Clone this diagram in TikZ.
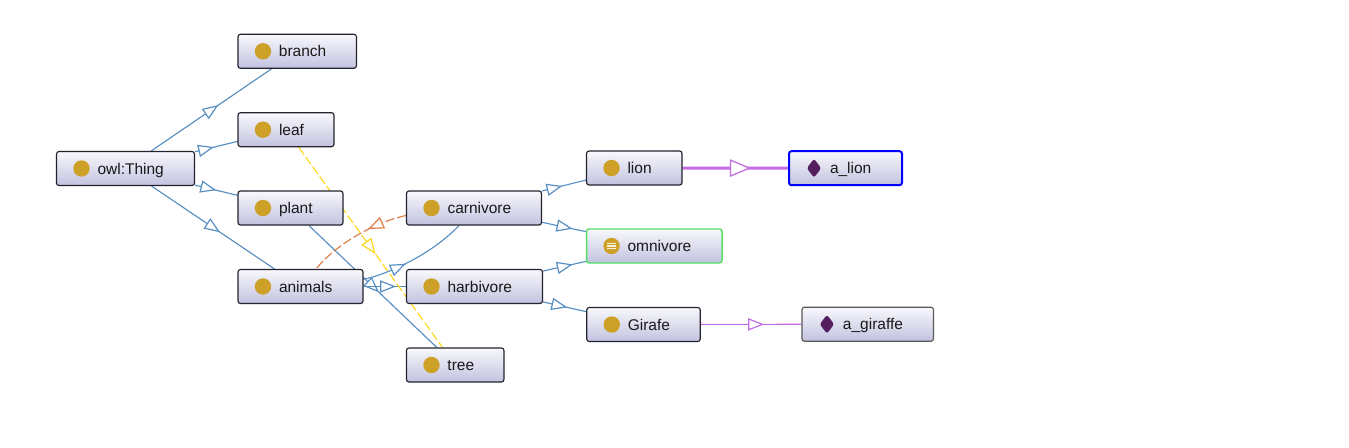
\documentclass[tikz,border=0pt]{standalone}
\usepackage{fontspec}
\setmainfont{Liberation Sans}
\usetikzlibrary{calc,decorations.markings,backgrounds}
\definecolor{edgeblue}{RGB}{88,143,195}
\definecolor{edgeyellow}{RGB}{255,214,30}
\definecolor{edgeorange}{RGB}{222,125,70}
\definecolor{edgepurple}{RGB}{196,108,226}
\definecolor{icongold}{RGB}{205,160,40}
\definecolor{iconplum}{RGB}{85,30,95}
\definecolor{boxtop}{RGB}{248,248,252}
\definecolor{boxbottom}{RGB}{194,194,224}
\definecolor{boxedge}{RGB}{35,35,45}
\definecolor{okgreen}{RGB}{85,225,100}
\tikzset{
  x=1pt,y=-1pt,
  box/.style={rectangle,rounded corners=2.5pt,draw=boxedge,line width=1.15pt,
    top color=boxtop,bottom color=boxbottom,minimum height=34pt,
    inner xsep=0pt,inner ysep=0pt,text height=11pt,text depth=0pt,
    font=\fontsize{15.5pt}{18pt}\selectfont,text=black!90},
  classbox/.style={box,path picture={\fill[icongold] ([xshift=25pt]path picture bounding box.west) circle (8.2pt);}},
  equivbox/.style={box,draw=okgreen,line width=1.4pt,path picture={
    \fill[icongold] ([xshift=25pt]path picture bounding box.west) circle (8.2pt);
    \foreach \dy in {-2.8,0,2.8}{\draw[white!85!icongold,line width=1.3pt] ([xshift=20.8pt,yshift=\dy pt]path picture bounding box.west) -- ++(8.4pt,0);}}},
  indivbox/.style={box,path picture={\fill[iconplum] ([xshift=25pt]path picture bounding box.west) ++(0pt,9.5pt) -- ++(7.2pt,-9.5pt) -- ++(-7.2pt,-9.5pt) -- ++(-7.2pt,9.5pt) -- cycle;}},
  bluelink/.style={draw=edgeblue,line width=1.15pt},
  yellowlink/.style={draw=edgeyellow,line width=1.15pt,dash pattern=on 9pt off 3pt},
  orangelink/.style={draw=edgeorange,line width=1.15pt,dash pattern=on 9pt off 3pt},
  purplelink/.style={draw=edgepurple,line width=1.15pt},
  heavylink/.style={draw=edgepurple,line width=3pt},
  headat/.style n args={5}{postaction={decorate},decoration={markings,mark=at position #1 with {
    \draw[draw=#2,fill=white,solid,line width=#5,line join=miter] (-#3pt,-#4pt) -- (#3pt,0pt) -- (-#3pt,#4pt) -- cycle;}}},
}
\newcommand\lnk[4]{%
  \draw[#1link] (#3) -- (#4);
  \path[headat={0.5}{#2}{6.8}{5.4}{1.2pt}] (#3.center) -- (#4.center);}
\newcommand\lbl[2]{\makebox[#1pt][l]{\hspace*{41pt}#2}}
\begin{document}
\begin{tikzpicture}
\useasboundingbox (0,0) rectangle (1349,447);
\node[classbox] (thing) at (125.5,168.5) {\lbl{138}{owl:Thing}};
\node[classbox] (branch) at (297.2,51.3) {\lbl{118.5}{branch}};
\node[classbox] (leaf) at (286,129.7) {\lbl{96}{leaf}};
\node[classbox] (plant) at (290.5,208) {\lbl{105}{plant}};
\node[classbox] (animals) at (300.5,286.5) {\lbl{125}{animals}};
\node[classbox] (carnivore) at (474,208) {\lbl{135}{carnivore}};
\node[classbox] (harbivore) at (474.5,286.5) {\lbl{136}{harbivore}};
\node[classbox] (tree) at (455.2,365) {\lbl{97.5}{tree}};
\node[classbox] (lion) at (634.3,168) {\lbl{95.5}{lion}};
\node[equivbox] (omnivore) at (654.3,246) {\lbl{135.5}{omnivore}};
\node[classbox] (girafe) at (643.5,324.5) {\lbl{113.5}{Girafe}};
\node[indivbox,draw=blue,line width=2pt] (alion) at (845.5,168.2) {\lbl{113}{a\_lion}};
\node[indivbox,draw=black!65] (agiraffe) at (867.7,324.2) {\lbl{131.5}{a\_giraffe}};
\begin{scope}[on background layer]
\lnk{blue}{edgeblue}{thing}{branch}
\lnk{blue}{edgeblue}{thing}{leaf}
\lnk{blue}{edgeblue}{thing}{plant}
\lnk{blue}{edgeblue}{thing}{animals}
\lnk{blue}{edgeblue}{plant}{tree}
\lnk{blue}{edgeblue}{animals}{harbivore}
\lnk{blue}{edgeblue}{carnivore}{lion}
\lnk{blue}{edgeblue}{carnivore}{omnivore}
\lnk{blue}{edgeblue}{harbivore}{omnivore}
\lnk{blue}{edgeblue}{harbivore}{girafe}
\lnk{yellow}{edgeyellow}{leaf}{tree}
\lnk{purple}{edgepurple}{girafe}{agiraffe}
\draw[heavylink] (lion) -- (alion);
\path[headat={0.5}{edgepurple}{9.5}{8}{1.3pt}] (lion.center) -- (alion.center);
\draw[bluelink,headat={0.33}{edgeblue}{6.8}{5.4}{1.2pt}] ($(animals.east)+(0,-7.2)$) .. controls (385,275) and (430,256) .. ($(carnivore.south)+(-15,0)$);
\draw[orangelink,headat={0.3}{edgeorange}{6.8}{5.4}{1.2pt}] ($(carnivore.west)+(0,7.5)$) .. controls (380,221) and (340,240) .. ($(animals.north)+(15.5,0)$);
\end{scope}
\end{tikzpicture}
\end{document}
